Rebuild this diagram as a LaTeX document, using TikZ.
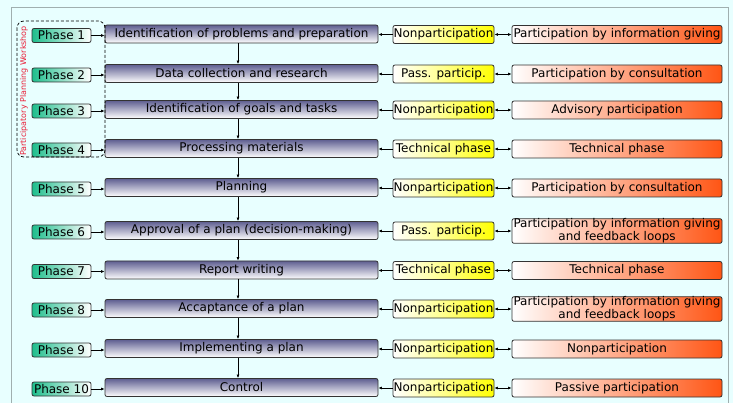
\documentclass[tikz,border=0pt]{standalone}
\usepackage{fontspec}
\setmainfont{DejaVu Sans}
\usepackage{tikz}
\usetikzlibrary{arrows.meta}

\definecolor{bgcyan}{RGB}{232,255,255}
\definecolor{framegray}{RGB}{160,175,175}
\definecolor{phasegreen}{RGB}{30,190,140}
\definecolor{stepblue}{RGB}{95,95,145}
\definecolor{partred}{RGB}{255,85,20}
\definecolor{labelred}{RGB}{235,30,55}

\tikzset{
	box/.style={draw=black!80, line width=0.8pt, rounded corners=2pt, inner sep=0pt, font=\fontsize{12}{13}\selectfont},
	phasebox/.style={box, left color=phasegreen, right color=white, minimum width=59pt, minimum height=14pt},
	stepbox/.style={box, top color=stepblue, bottom color=white, minimum width=273pt, minimum height=18pt},
	levelbox/.style={box, left color=white, right color=yellow, middle color=yellow!45, minimum width=101pt, minimum height=18pt},
	formbox/.style={box, left color=white, right color=partred, minimum width=210pt, minimum height=18pt, align=center},
	tip/.style={line width=0.7pt, -{Latex[length=3.5pt,width=3pt]}},
	tips/.style={line width=0.7pt, {Latex[length=3.5pt,width=3pt]}-{Latex[length=3.5pt,width=3pt]}}
}

\begin{document}
\begin{tikzpicture}[x=1pt, y=-1pt]
	\fill[bgcyan] (0,0) rectangle (733,403);
	\useasboundingbox (0,0) rectangle (733,403);
	\draw[framegray, line width=0.8pt] (11,403) -- (11,7) -- (728,7) -- (728,403);
	% phases: number / row / step / level / form of participation
	\foreach \n/\y/\step/\level/\form in {
		1/35.5/Identification of problems and preparation/Nonparticipation/Participation by information giving,
		2/75/Data collection and research/Pass. particip./Participation by consultation,
		3/111/Identification of goals and tasks/Nonparticipation/Advisory participation,
		4/150/Processing materials/Technical phase/Technical phase,
		5/189/Planning/Nonparticipation/Participation by consultation,
		6/232/Approval of a plan (decision-making)/Pass. particip./{Participation by information giving\\and feedback loops},
		7/271.5/Report writing/Technical phase/Technical phase,
		8/310/Accaptance of a plan/Nonparticipation/{Participation by information giving\\and feedback loops},
		9/350/Implementing a plan/Nonparticipation/Nonparticipation,
		10/389/Control/Nonparticipation/Passive participation}
	{
		\node[phasebox] (p\n) at (61.5,\y) {Phase \n};
		\node[stepbox] (s\n) at (241.5,\y-1.5) {\step};
		\node[levelbox] (l\n) at (443.5,\y-1) {\level};
		\node[formbox] (f\n) at (617,\y-1) {\form};
		\draw[tip] (p\n.east) -- (p\n.east -| s\n.west);
		\draw[tip] (l\n.west) -- (s\n.east |- l\n.west);
		\draw[tips] (l\n.east) -- (f\n.west |- l\n.east);
	}
	\foreach \a/\b in {1/2,2/3,3/4,4/5,5/6,6/7,7/8,8/9,9/10}
		\draw[tip] ([xshift=-3.5pt]s\a.south) -- ([xshift=-3.5pt]s\b.north);
	% workshop group
	\draw[densely dashed, line width=0.7pt, rounded corners=7pt] (17,21) rectangle (105,157);
	\node[rotate=90, text=labelred, font=\fontsize{8}{9}\selectfont] (workshop) at (24,91) {Participatory Planning Workshop};
\end{tikzpicture}
\end{document}
